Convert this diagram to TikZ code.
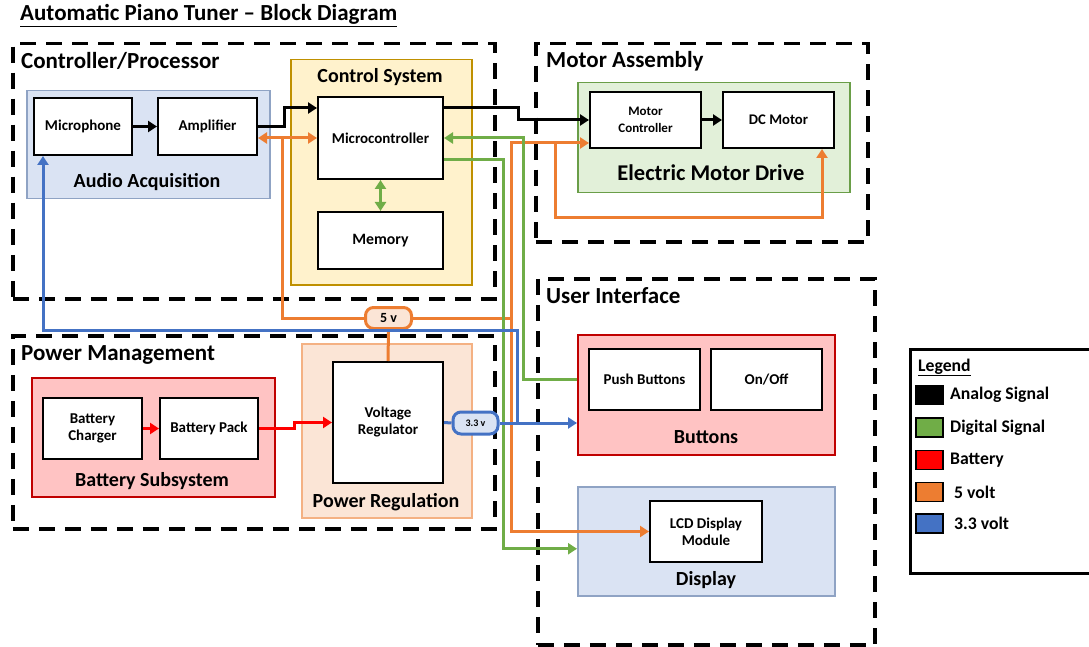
\documentclass[tikz,border=0pt]{standalone}
\usepackage{fontspec}
\setmainfont{Carlito}
\usetikzlibrary{arrows.meta,calc}
\newcommand\fsz[2]{\fontsize{#1}{#2}\selectfont}
\definecolor{cgreen}{HTML}{70AD47}
\definecolor{corange}{HTML}{ED7D31}
\definecolor{cblue}{HTML}{4472C4}
\definecolor{cred}{HTML}{FF0000}
\definecolor{dkred}{HTML}{C00000}
\definecolor{fblue}{HTML}{DAE3F3}
\definecolor{bblue}{HTML}{8FA3C4}
\definecolor{fyellow}{HTML}{FFF2CC}
\definecolor{byellow}{HTML}{BF9000}
\definecolor{fgreen}{HTML}{E2F0D9}
\definecolor{bgreen}{HTML}{6A9E48}
\definecolor{fpink}{HTML}{FFC3C3}
\definecolor{fpeach}{HTML}{FBE5D6}
\definecolor{bpeach}{HTML}{F4B183}
\begin{document}
\begin{tikzpicture}[x=1pt,y=-1pt,
  frame/.style={draw=black, line width=3.5pt, dash pattern=on 16pt off 10pt,
    anchor=north west, inner sep=0pt},
  group/.style={line width=1.5pt, anchor=north west, inner sep=0pt},
  unit/.style={draw=black, fill=white, line width=2pt, align=center,
    inner sep=0pt, font=\bfseries\fsz{15}{17}},
  sec/.style={anchor=west, inner sep=0pt, font=\bfseries\fsz{23}{26}},
  glabel/.style={inner sep=0pt, font=\bfseries\fsz{20}{24}},
  tip/.style={-{Triangle[length=9pt,width=11pt]}},
  dtip/.style={{Triangle[length=9pt,width=11pt]}-{Triangle[length=9pt,width=11pt]}},
  wire/.style={line width=3pt},
  analog/.style={wire, draw=black},
  digital/.style={wire, draw=cgreen},
  batt/.style={wire, draw=cred},
  fivev/.style={wire, draw=corange},
  threev/.style={wire, draw=cblue},
  swatch/.style={draw=black, line width=1.6pt, minimum width=27pt,
    minimum height=19pt, inner sep=0pt},
  legtext/.style={anchor=west, inner sep=0pt, font=\bfseries\fsz{17.7}{21}},
]
\useasboundingbox (0,0) rectangle (1089,647);
\clip (0,0) rectangle (1089,647);

% title
\node[anchor=base west, inner sep=0pt, font=\bfseries\fsz{23}{26}] (title)
  at (20,21) {\underline{Automatic Piano Tuner -- Block Diagram}};

% subsystem frames
\node[frame, minimum width=482pt, minimum height=255pt] (fcp) at (11,42) {};
\node[frame, minimum width=332pt, minimum height=198pt] (fma) at (534,42) {};
\node[frame, minimum width=337pt, minimum height=366pt] (fui) at (536,277) {};
\node[frame, minimum width=482pt, minimum height=193pt] (fpm) at (11,334) {};
\node[sec] (lcp) at (21,61) {Controller/Processor};
\node[sec] (lma) at (546,61) {Motor Assembly};
\node[sec] (lui) at (546,296) {User Interface};
\node[sec] (lpm) at (21,355) {Power Management};

% functional groups
\node[group, draw=bblue, fill=fblue, minimum width=243pt, minimum height=108pt] (audio) at (26,90) {};
\node[group, draw=byellow, fill=fyellow, minimum width=181pt, minimum height=225pt] (ctrl) at (290,59) {};
\node[group, draw=bgreen, fill=fgreen, minimum width=272pt, minimum height=110pt] (emd) at (577,82) {};
\node[group, draw=dkred, fill=fpink, minimum width=257pt, minimum height=120pt] (btns) at (577,334) {};
\node[group, draw=bblue, fill=fblue, minimum width=257pt, minimum height=109pt] (disp) at (577,486) {};
\node[group, draw=dkred, fill=fpink, minimum width=243pt, minimum height=119pt] (bats) at (31,377) {};
\node[group, draw=bpeach, fill=fpeach, minimum width=170pt, minimum height=174pt] (preg) at (301,343) {};
\node[glabel] (laudio) at (147,182) {Audio Acquisition};
\node[glabel, font=\bfseries\fsz{20}{24}] (lctrl) at (380,77) {Control System};
\node[glabel, font=\bfseries\fsz{22.5}{26}] (lemd) at (711,173) {Electric Motor Drive};
\node[glabel] (lbtns) at (706,437) {Buttons};
\node[glabel] (ldisp) at (706,580) {Display};
\node[glabel] (lbats) at (152,481) {Battery Subsystem};
\node[glabel] (lpreg) at (386,502) {Power Regulation};

% units
\node[unit, minimum width=98pt, minimum height=57pt] (mic) at (83,126.5) {Microphone};
\node[unit, minimum width=99pt, minimum height=57pt] (amp) at (207.5,126.5) {Amplifier};
\node[unit, minimum width=125pt, minimum height=82pt] (mcu) at (380.5,138) {Microcontroller};
\node[unit, minimum width=125pt, minimum height=57pt, font=\bfseries\fsz{15.8}{18}] (mem) at (380.5,240.5) {Memory};
\node[unit, minimum width=111pt, minimum height=56pt, font=\bfseries\fsz{13}{17}] (mctl) at (645.5,120) {Motor\\Controller};
\node[unit, minimum width=111pt, minimum height=56pt, font=\bfseries\fsz{14.7}{17}] (dcm) at (778.5,120) {DC Motor};
\node[unit, minimum width=111pt, minimum height=61pt] (push) at (644.5,379.5) {Push Buttons};
\node[unit, minimum width=111pt, minimum height=61pt] (onoff) at (766.5,379.5) {On/Off};
\node[unit, minimum width=112pt, minimum height=61pt] (lcd) at (706,531.5) {LCD Display\\Module};
\node[unit, minimum width=99pt, minimum height=61pt] (chg) at (92.5,428.5) {Battery\\Charger};
\node[unit, minimum width=98pt, minimum height=61pt] (pack) at (209,428.5) {Battery Pack};
\node[unit, minimum width=110pt, minimum height=121pt] (vreg) at (388,422.5) {Voltage\\Regulator};

% rail tags
\node[draw=corange, fill=fpeach, line width=3pt, rounded corners=8pt,
  minimum width=46pt, minimum height=21pt, inner sep=0pt,
  font=\bfseries\fsz{14}{16}] (v5) at (388.5,318) {5 v};
\node[draw=cblue, fill=fblue, line width=3pt, rounded corners=8pt,
  minimum width=45pt, minimum height=22pt, inner sep=0pt,
  font=\bfseries\fsz{10}{12}] (v33) at (475.5,423) {3.3 v};

% junction points
\coordinate (j5) at (511,318);
\coordinate (jm) at (555,143);
\coordinate (jb) at (517,423);

% analog signals
\draw[analog, tip] (mic.east) -- (amp.east -| amp.west);
\draw[analog, tip] (amp.east) -- ++(26,0) |- ([yshift=30pt]mcu.west);
\draw[analog, tip] ([yshift=30pt]mcu.east) -- ++(74,0) |- (mctl.west);
\draw[analog, tip] (mctl.east) -- (dcm.west);

% 5 volt rail
\draw[fivev] (v5.south) -- (vreg.north);
\draw[fivev] (v5.west) -| ([xshift=24pt]amp.east |- mcu.west);
\draw[fivev, dtip] (amp.east |- mcu.west) -- (mcu.west);
\draw[fivev] (v5.east) -- (j5);
\draw[fivev, tip] (j5) |- ([yshift=-23pt]mctl.west);
\draw[fivev, tip] (j5) |- (lcd.west);
\draw[fivev, tip] (jm) -- ++(0,74) -| ([xshift=43.5pt]dcm.south);

% digital signals
\draw[digital, dtip] (mcu.south) -- (mem.north);
\draw[digital, tip] (push.west -| btns.west) -| ([xshift=79pt]mcu.east) -- (mcu.east);
\draw[digital, tip] ([yshift=-22pt]mcu.east) -- ++(59,0) |- ([yshift=-7.5pt]disp.west);

% 3.3 volt rail
\draw[threev] (vreg.east) -- (v33.west);
\draw[threev, tip] (v33.east) -- (v33.east -| btns.west);
\draw[threev, tip] (jb) -- ++(0,-93) -| ([xshift=-40pt]mic.south);

% battery
\draw[batt, tip] (chg.east) -- (pack.west);
\draw[batt, tip] (pack.east) -- ++(35,0) |- (vreg.west);

% legend
\node[draw=black, line width=3pt, anchor=north west, minimum width=200pt,
  minimum height=224pt, inner sep=0pt] (leg) at (909,348) {};
\node[anchor=base west, inner sep=0pt, font=\bfseries\fsz{17.7}{20}] (legt) at (918,371) {\underline{Legend}};
\node[swatch, fill=black] (s1) at (929.5,395) {};
\node[swatch, fill=cgreen] (s2) at (929.5,427.5) {};
\node[swatch, fill=cred] (s3) at (929.5,460) {};
\node[swatch, fill=corange] (s4) at (929.5,492) {};
\node[swatch, fill=cblue] (s5) at (929.5,523.5) {};
\node[legtext] (t1) at (950,395) {Analog Signal};
\node[legtext] (t2) at (950,427.5) {Digital Signal};
\node[legtext] (t3) at (950,460) {Battery};
\node[legtext] (t4) at (954,492) {5 volt};
\node[legtext] (t5) at (954,523.5) {3.3 volt};
\end{tikzpicture}
\end{document}
